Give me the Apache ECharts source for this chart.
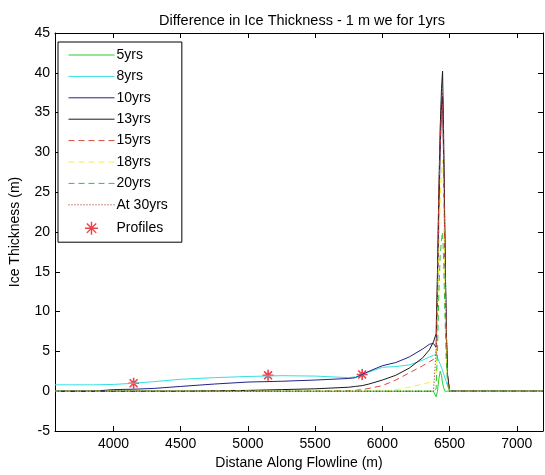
<!DOCTYPE html>
<html>
<head>
<meta charset="utf-8">
<script src="https://cdn.jsdelivr.net/npm/echarts@6/dist/echarts.min.js"></script>
<style>html,body{margin:0;padding:0;background:#fff;}#c{width:545px;height:475px;}</style>
</head>
<body>
<div id="c"></div>
<script>
// Shared x grid (distance along flowline, m)
const xs = [3565, 3850, 4000, 4150, 4300, 4500, 4750, 5000, 5250, 5500, 5750, 5800, 5850, 5900, 6000, 6100, 6200, 6300, 6350, 6380, 6400, 6410, 6420, 6430, 6440, 6448, 6455, 6465, 6475, 6485, 6500, 6600, 7195];

const y5  = [0, 0, 0, 0, 0, 0, 0, 0, 0, 0, 0, 0, 0, 0, 0, 0, 0, 0, 0, 0, -0.7, 0, 1.5, 2.5, 2, 1, 0.5, 0, 0, 0, 0, 0, 0];
const y8  = [0.8, 0.8, 0.85, 1.0, 1.2, 1.5, 1.7, 1.85, 1.95, 1.9, 1.7, 1.8, 2.1, 2.4, 3.0, 3.1, 3.3, 3.9, 4.3, 4.5, 4.6, 4.2, 3.8, 3.4, 3.0, 2.6, 2.2, 1.7, 1.2, 0.7, 0, 0, 0];
const y10 = [0, 0, 0.2, 0.25, 0.35, 0.6, 0.9, 1.15, 1.25, 1.4, 1.6, 1.7, 2.1, 2.5, 3.2, 3.6, 4.3, 5.3, 5.9, 6.0, 5.5, 12, 22, 30, 36, 37, 30, 18, 8, 2, 0, 0, 0];
const y13 = [0, 0, 0, 0, 0, 0, 0.05, 0.1, 0.2, 0.3, 0.5, 0.6, 0.7, 0.9, 1.4, 2.0, 2.9, 4.2, 5.2, 6.2, 7.2, 15, 25, 33, 38, 40.2, 33, 20, 8, 2, 0, 0, 0];
const y15 = [0, 0, 0, 0, 0, 0, 0, 0, 0, 0, 0.05, 0.1, 0.2, 0.35, 0.7, 1.4, 2.3, 3.2, 3.7, 4.0, 4.6, 13, 24, 31, 35, 36, 30, 17, 7, 1.5, 0, 0, 0];
const y18 = [0, 0, 0, 0, 0, 0, 0, 0, 0, 0, 0, 0, 0, 0, 0, 0.2, 0.5, 0.9, 1.1, 1.2, 1.3, 8, 17, 24, 28, 29, 25, 14, 5, 1, 0, 0, 0];
const y20 = [0, 0, 0, 0, 0, 0, 0, 0, 0, 0, 0, 0, 0, 0, 0, 0, 0, 0, 0, 0, 0.3, 5, 12, 17, 19, 20, 17, 10, 4, 1, 0, 0, 0];
const y30 = [0, 0, 0, 0, 0, 0, 0, 0, 0, 0, 0, 0, 0, 0, 0, 0, 0, 0, 0, 0, 5, 14, 25, 32, 36, 37.5, 32, 20, 8, 2, 0, 0, 0];

const profX = [4150, 5150, 5850];
const profY = [1.0, 2.0, 2.1];

const xTicks = [4000, 4500, 5000, 5500, 6000, 6500, 7000];

const names = ['5yrs', '8yrs', '10yrs', '13yrs', '15yrs', '18yrs', '20yrs', 'At 30yrs'];
const ySets = [y5, y8, y10, y13, y15, y18, y20, y30];
const colors = ['#2ecc2e', '#33e0e0', '#22228a', '#1a1a1a', '#d84a3a', '#f2f040', '#33c233', '#9a1e1e'];
const types = ['solid', 'solid', 'solid', 'solid', [6, 4], [6, 4], [6, 4], [1, 2]];

const font = 'Liberation Sans, Arial, sans-serif';
const star = 'path://M0,-5L0,5M-5,0L5,0M-3.6,-3.6L3.6,3.6M-3.6,3.6L3.6,-3.6';
const red = '#e8101e';

const series = names.map((n, k) => ({
  name: n,
  type: 'line',
  data: xs.map((x, i) => [x, ySets[k][i]]),
  symbol: 'none',
  showSymbol: false,
  lineStyle: { color: colors[k], width: 1, type: types[k] },
  itemStyle: { color: colors[k] },
  animation: false
}));
series.push({
  name: 'Profiles',
  type: 'scatter',
  data: profX.map((x, i) => [x, profY[i]]),
  symbol: star,
  symbolSize: 11,
  itemStyle: { color: 'none', borderColor: red, borderWidth: 1.6 },
  animation: false
});

const chart = echarts.init(document.getElementById('c'), null, { renderer: 'canvas' });
const axisLine = { show: true, onZero: false, lineStyle: { color: '#000', width: 1 } };
const hiddenSym = { color: 'rgba(0,0,0,0)', borderColor: 'rgba(0,0,0,0)', borderWidth: 0, opacity: 0 };
chart.setOption({
  backgroundColor: '#fff',
  animation: false,
  title: {
    text: 'Difference in Ice Thickness - 1 m we for 1yrs',
    left: 297, top: 8, textAlign: 'center',
    textStyle: { fontFamily: font, fontSize: 14.5, fontWeight: 'normal', color: '#000' }
  },
  grid: { left: 52, right: 2, top: 33, bottom: 44, containLabel: false },
  legend: {
    orient: 'vertical', left: 58, top: 42,
    padding: [6, 14, 5, 10],
    itemWidth: 46, itemHeight: 13, itemGap: 7.4,
    backgroundColor: '#fff', borderColor: '#000', borderWidth: 1, borderRadius: 0,
    lineStyle: { width: 1 },
    textStyle: { fontFamily: font, fontSize: 14, color: '#000', padding: [0, 0, 0, -3] },
    data: names.map(n => ({ name: n, itemStyle: hiddenSym })).concat([{ name: 'Profiles', icon: star, itemStyle: { color: 'none', borderColor: red, borderWidth: 1.4 } }])
  },
  xAxis: [{
    type: 'value', min: 3565, max: 7195, position: 'bottom',
    name: 'Distane Along Flowline (m)', nameLocation: 'middle', nameGap: 24,
    nameTextStyle: { fontFamily: font, fontSize: 14, color: '#000' },
    axisLine: axisLine,
    axisTick: { show: true, inside: true, length: 5, customValues: xTicks, lineStyle: { color: '#000' } },
    axisLabel: { show: true, customValues: xTicks, margin: 6, fontFamily: font, fontSize: 14, color: '#000', formatter: v => String(v) },
    splitLine: { show: false }
  }, {
    type: 'value', min: 3565, max: 7195, position: 'top',
    axisLine: axisLine,
    axisTick: { show: true, inside: true, length: 5, customValues: xTicks, lineStyle: { color: '#000' } },
    axisLabel: { show: false },
    splitLine: { show: false }
  }],
  yAxis: [{
    type: 'value', min: -5, max: 45, interval: 5, position: 'left',
    name: 'Ice Thickness (m)', nameLocation: 'middle', nameGap: 33, nameRotate: 90,
    nameTextStyle: { fontFamily: font, fontSize: 14, color: '#000' },
    axisLine: axisLine,
    axisTick: { show: true, inside: true, length: 5, lineStyle: { color: '#000' } },
    axisLabel: { show: true, margin: 5, fontFamily: font, fontSize: 14, color: '#000' },
    splitLine: { show: false }
  }, {
    type: 'value', min: -5, max: 45, interval: 5, position: 'right',
    axisLine: axisLine,
    axisTick: { show: true, inside: true, length: 5, lineStyle: { color: '#000' } },
    axisLabel: { show: false },
    splitLine: { show: false }
  }],
  series: series
});
</script>
</body>
</html>
